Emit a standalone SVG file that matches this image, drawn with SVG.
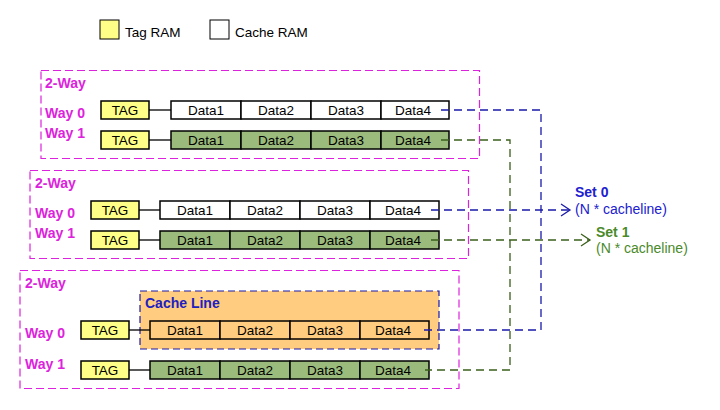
<svg xmlns="http://www.w3.org/2000/svg" width="720" height="410" viewBox="0 0 720 410">
<style>
text{font-family:"Liberation Sans",Arial,sans-serif}
.set{fill:none;stroke:#DD22DD;stroke-width:1.2;stroke-dasharray:8,4}
.lbl{fill:#DD22DD;font-weight:bold;font-size:14px}
.tag{fill:#FFFF88;stroke:#000;stroke-width:1.5}
.d0{fill:#FFFFFF;stroke:#000;stroke-width:1.5}
.d1{fill:#9BBB7D;stroke:#000;stroke-width:1.5}
.dc{fill:#FFCC80;stroke:#000;stroke-width:1.5}
.t{font-size:13.5px;fill:#000;text-anchor:middle}
.lk{stroke:#000;stroke-width:1.3}
.bl{fill:none;stroke:#1A1AAA;stroke-width:1.3;stroke-dasharray:8,5}
.gr{fill:none;stroke:#3A5F1A;stroke-width:1.3;stroke-dasharray:8,5}
</style>
<defs>
<marker id="ab" markerUnits="userSpaceOnUse" markerWidth="12" markerHeight="14" refX="10" refY="7" orient="auto" viewBox="0 0 12 14"><path d="M1,1 L10,7 L1,13" fill="none" stroke="#1A1AAA" stroke-width="1.3"/></marker>
<marker id="ag" markerUnits="userSpaceOnUse" markerWidth="12" markerHeight="14" refX="10" refY="7" orient="auto" viewBox="0 0 12 14"><path d="M1,1 L10,7 L1,13" fill="none" stroke="#3A5F1A" stroke-width="1.3"/></marker>
</defs>
<rect width="720" height="410" fill="#fff"/>
<g id="legend">
<rect x="100" y="20" width="19" height="19" fill="#FFFF88" stroke="#000" stroke-width="1"/>
<text x="125" y="37" font-size="13.5">Tag RAM</text>
<rect x="210" y="20" width="19" height="19" fill="#fff" stroke="#000" stroke-width="1"/>
<text x="235" y="37" font-size="13.5">Cache RAM</text>
</g>
<g id="setA">
<rect class="set" x="41" y="70.5" width="438.5" height="88"/>
<text class="lbl" x="45" y="88">2-Way</text>
<text class="lbl" x="45" y="118">Way 0</text>
<text class="lbl" x="45" y="138">Way 1</text>
<line class="lk" x1="149" y1="110" x2="171" y2="110"/>
<line class="lk" x1="149" y1="140" x2="171" y2="140"/>
<rect class="tag" x="101" y="101" width="48" height="18"/><text class="t" x="125" y="115">TAG</text>
<rect class="d0" x="171" y="101" width="70" height="18"/><text class="t" x="206" y="115">Data1</text>
<rect class="d0" x="241" y="101" width="70" height="18"/><text class="t" x="276" y="115">Data2</text>
<rect class="d0" x="311" y="101" width="70" height="18"/><text class="t" x="346" y="115">Data3</text>
<rect class="d0" x="381" y="101" width="68" height="18"/><text class="t" x="413" y="115">Data4</text>
<rect class="tag" x="101" y="131" width="48" height="18"/><text class="t" x="125" y="145">TAG</text>
<rect class="d1" x="171" y="131" width="70" height="18"/><text class="t" x="206" y="145">Data1</text>
<rect class="d1" x="241" y="131" width="70" height="18"/><text class="t" x="276" y="145">Data2</text>
<rect class="d1" x="311" y="131" width="70" height="18"/><text class="t" x="346" y="145">Data3</text>
<rect class="d1" x="381" y="131" width="68" height="18"/><text class="t" x="413" y="145">Data4</text>
</g>
<g id="setB">
<rect class="set" x="30" y="170.5" width="438.5" height="88"/>
<text class="lbl" x="35" y="188">2-Way</text>
<text class="lbl" x="35" y="218">Way 0</text>
<text class="lbl" x="35" y="238">Way 1</text>
<line class="lk" x1="139" y1="210" x2="160" y2="210"/>
<line class="lk" x1="139" y1="240" x2="160" y2="240"/>
<rect class="tag" x="91" y="201" width="48" height="18"/><text class="t" x="115" y="215">TAG</text>
<rect class="d0" x="160" y="201" width="70" height="18"/><text class="t" x="195" y="215">Data1</text>
<rect class="d0" x="230" y="201" width="70" height="18"/><text class="t" x="265" y="215">Data2</text>
<rect class="d0" x="300" y="201" width="70" height="18"/><text class="t" x="335" y="215">Data3</text>
<rect class="d0" x="370" y="201" width="69" height="18"/><text class="t" x="403" y="215">Data4</text>
<rect class="tag" x="91" y="231" width="48" height="18"/><text class="t" x="115" y="245">TAG</text>
<rect class="d1" x="160" y="231" width="70" height="18"/><text class="t" x="195" y="245">Data1</text>
<rect class="d1" x="230" y="231" width="70" height="18"/><text class="t" x="265" y="245">Data2</text>
<rect class="d1" x="300" y="231" width="70" height="18"/><text class="t" x="335" y="245">Data3</text>
<rect class="d1" x="370" y="231" width="69" height="18"/><text class="t" x="403" y="245">Data4</text>
</g>
<g id="setC">
<rect class="set" x="20" y="270.5" width="439" height="118"/>
<text class="lbl" x="25" y="288">2-Way</text>
<text class="lbl" x="25" y="338">Way 0</text>
<text class="lbl" x="25" y="369">Way 1</text>
<rect x="140" y="291" width="299" height="58" fill="#FFCC80" stroke="#1A1AAA" stroke-width="1.2" stroke-dasharray="7,4"/>
<text x="145" y="308" font-size="14" font-weight="bold" fill="#2020C0">Cache Line</text>
<line class="lk" x1="129" y1="330" x2="150" y2="330"/>
<line class="lk" x1="129" y1="370" x2="150" y2="370"/>
<rect class="tag" x="81" y="321" width="48" height="18"/><text class="t" x="105" y="335">TAG</text>
<rect class="dc" x="150" y="321" width="70" height="18"/><text class="t" x="185" y="335">Data1</text>
<rect class="dc" x="220" y="321" width="70" height="18"/><text class="t" x="255" y="335">Data2</text>
<rect class="dc" x="290" y="321" width="70" height="18"/><text class="t" x="325" y="335">Data3</text>
<rect class="dc" x="360" y="321" width="69" height="18"/><text class="t" x="393" y="335">Data4</text>
<rect class="tag" x="81" y="361" width="48" height="18"/><text class="t" x="105" y="375">TAG</text>
<rect class="d1" x="150" y="361" width="70" height="18"/><text class="t" x="185" y="375">Data1</text>
<rect class="d1" x="220" y="361" width="70" height="18"/><text class="t" x="255" y="375">Data2</text>
<rect class="d1" x="290" y="361" width="70" height="18"/><text class="t" x="325" y="375">Data3</text>
<rect class="d1" x="360" y="361" width="69" height="18"/><text class="t" x="393" y="375">Data4</text>
</g>
<g id="connectors">
<path class="bl" d="M441,110 H541 V330 H421"/>
<path class="gr" d="M441,140 H510 V370 H425"/>
<path class="bl" d="M431,210 H570" marker-end="url(#ab)"/>
<path class="gr" d="M431,240 H590" marker-end="url(#ag)"/>
</g>
<g id="set0">
<text x="575" y="197" font-size="14" font-weight="bold" fill="#2020D0">Set 0</text>
<text x="575" y="214" font-size="14" fill="#2020D0">(N * cacheline)</text>
</g>
<g id="set1">
<text x="596" y="237" font-size="14" font-weight="bold" fill="#4A8A2A">Set 1</text>
<text x="596" y="253" font-size="14" fill="#4A8A2A">(N * cacheline)</text>
</g>
</svg>
